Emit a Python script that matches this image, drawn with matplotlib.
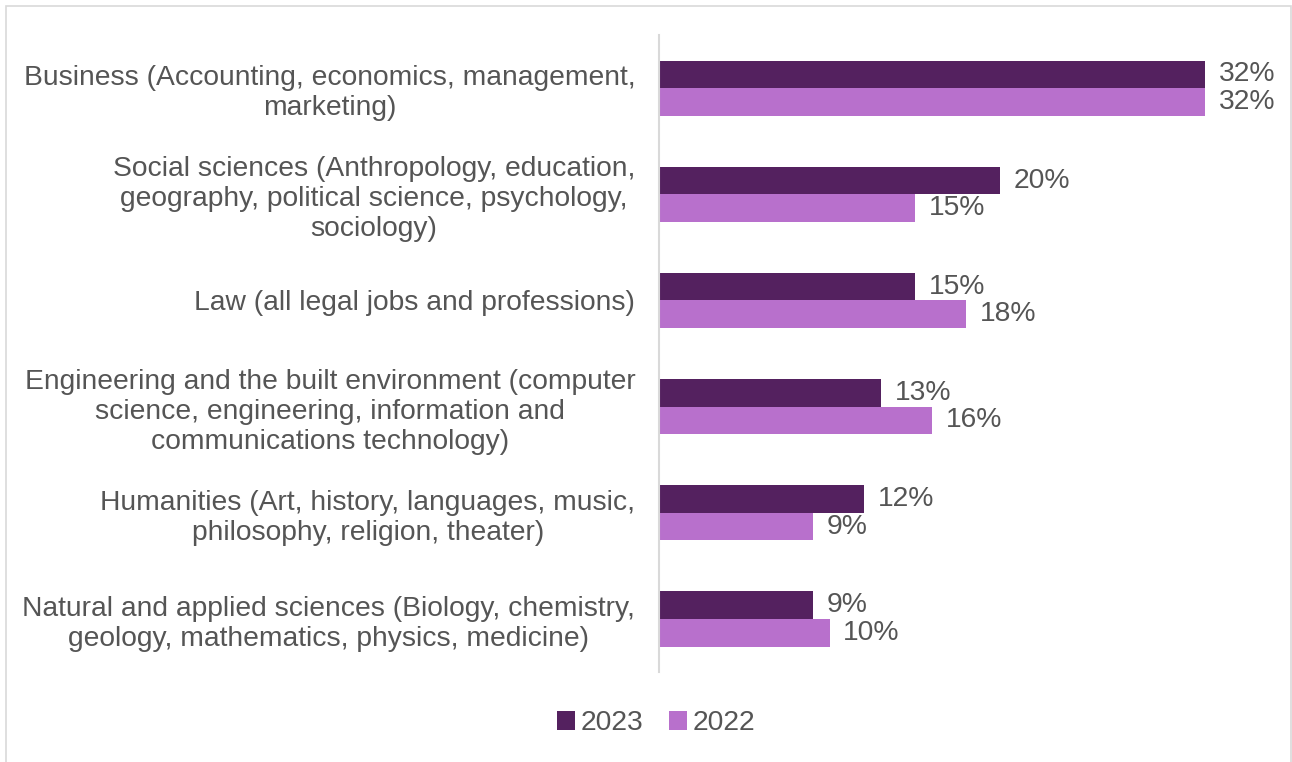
import matplotlib.pyplot as plt
import numpy as np
from matplotlib.patches import Rectangle

plt.rcParams['font.family'] = ['Liberation Sans', 'DejaVu Sans']

categories = [
    "Business (Accounting, economics, management,\nmarketing)",
    "Social sciences (Anthropology, education,\ngeography, political science, psychology,\nsociology)",
    "Law (all legal jobs and professions)",
    "Engineering and the built environment (computer\nscience, engineering, information and\ncommunications technology)",
    "Humanities (Art, history, languages, music,\nphilosophy, religion, theater)",
    "Natural and applied sciences (Biology, chemistry,\ngeology, mathematics, physics, medicine)",
]
values_2023 = [32, 20, 15, 13, 12, 9]
values_2022 = [32, 15, 18, 16, 9, 10]

dark = '#54215f'
light = '#b870cc'
text_color = '#555555'

fig = plt.figure(figsize=(12.92, 7.62), dpi=100)
ax = fig.add_axes([0.510, 0.118, 0.465, 0.836])

y = np.arange(len(categories))
h = 0.26
b1 = ax.barh(y - h / 2, values_2023, height=h, color=dark, label='2023')
b2 = ax.barh(y + h / 2, values_2022, height=h, color=light, label='2022')

for bars, vals in ((b1, values_2023), (b2, values_2022)):
    for bar, v in zip(bars, vals):
        ax.text(v + 0.8, bar.get_y() + bar.get_height() / 2, f"{v}%",
                va='center', ha='left', fontsize=20.3, color=text_color)

ax.set_xlim(0, 35.2)
ax.set_ylim(len(categories) - 0.5, -0.5)
ax.set_xticks([])
ax.set_yticks(y)
ax.set_yticklabels(categories, fontsize=20.3, color=text_color)
for lbl in ax.get_yticklabels():
    lbl.set_multialignment('center')
ax.tick_params(axis='y', length=0, pad=17)

for s in ('top', 'right', 'bottom'):
    ax.spines[s].set_visible(False)
ax.spines['left'].set_color('#d9d9d9')
ax.spines['left'].set_linewidth(1.5)

leg = fig.legend(loc='center', bbox_to_anchor=(0.508, 0.051), ncol=2, frameon=False,
                 fontsize=20.3, handlelength=0.65, handleheight=0.65,
                 handletextpad=0.2, columnspacing=0.9)
for t in leg.get_texts():
    t.set_color(text_color)

fig.patches.append(Rectangle((6 / 1292, -0.01), 1285 / 1292, 1 - 6 / 762 + 0.01,
                             transform=fig.transFigure, fill=False,
                             edgecolor='#d9d9d9', linewidth=1.2))

fig.savefig('out.png', dpi=100)
